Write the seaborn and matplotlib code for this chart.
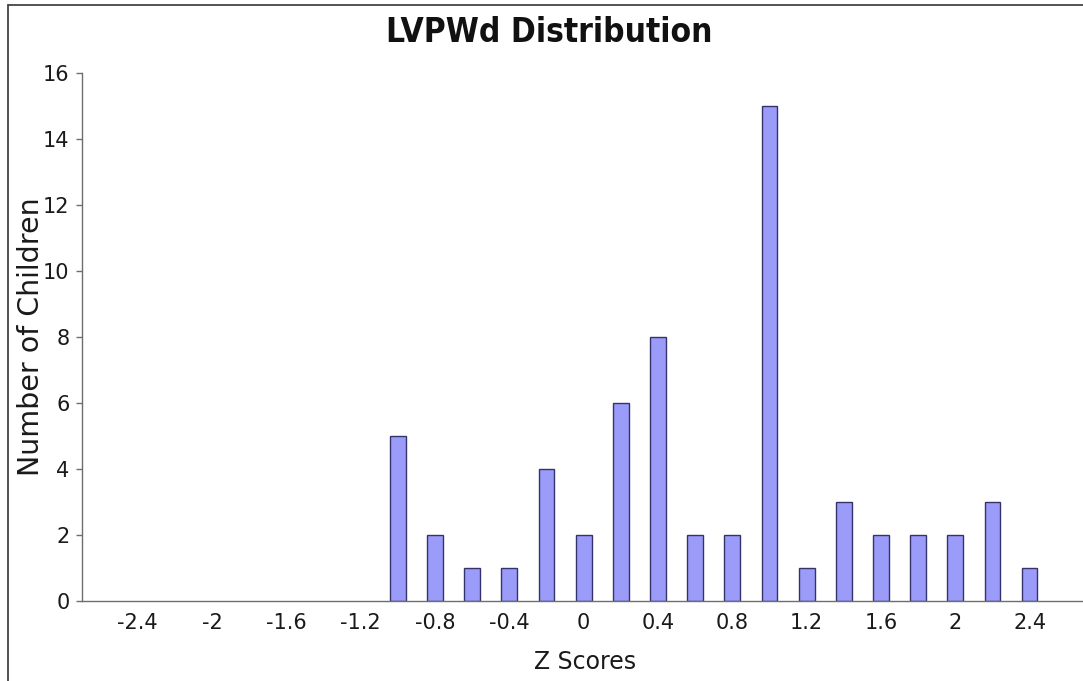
import matplotlib
matplotlib.use("Agg")
import matplotlib.pyplot as plt
from matplotlib.lines import Line2D
import numpy as np
import pandas as pd
import seaborn as sns

# Z-score bins (bin centres) and number of children in each bin
z_scores = [-1.0, -0.8, -0.6, -0.4, -0.2, 0.0, 0.2, 0.4, 0.6,
            0.8, 1.0, 1.2, 1.4, 1.6, 1.8, 2.0, 2.2, 2.4]
counts = [5, 2, 1, 1, 4, 2, 6, 8, 2, 2, 15, 1, 3, 2, 2, 2, 3, 1]

# Axis labelling
x_label_values = [-2.4, -2.0, -1.6, -1.2, -0.8, -0.4, 0.0, 0.4, 0.8, 1.2, 1.6, 2.0, 2.4]
x_label_text = ["-2.4", "-2", "-1.6", "-1.2", "-0.8", "-0.4", "0", "0.4", "0.8",
                "1.2", "1.6", "2", "2.4"]
y_ticks = [0, 2, 4, 6, 8, 10, 12, 14, 16]

title = "LVPWd Distribution"
x_title = "Z Scores"
y_title = "Number of Children"

df = pd.DataFrame({"z": z_scores, "n": counts})

sns.set_style("white")
plt.rcParams["font.family"] = ["DejaVu Sans"]

W, H = 1083, 681
fig = plt.figure(figsize=(W / 100, H / 100), dpi=100)
fig.patch.set_facecolor("white")

# axes placement in pixels
x0_px, y0_px = 82, 600.7
px_per_unit_x = 185.8
px_per_unit_y = 33.0
xmin, xmax = -2.7, 2.7
ymin, ymax = 0, 16
ax = fig.add_axes([x0_px / W, (H - y0_px) / H,
                   (xmax - xmin) * px_per_unit_x / W,
                   (ymax - ymin) * px_per_unit_y / H])

sns.barplot(data=df, x="z", y="n", native_scale=True, width=0.425,
            color="#9b9bfa", saturation=1, edgecolor="#34346a",
            linewidth=1.0, ax=ax, errorbar=None)

ax.set_xlim(xmin, xmax)
ax.set_ylim(ymin, ymax)

axis_grey = "#6e6e6e"
for side in ("top", "right"):
    ax.spines[side].set_visible(False)
for side in ("left", "bottom"):
    ax.spines[side].set_color(axis_grey)
    ax.spines[side].set_linewidth(1.0)

# labels sit at bin centres, tick marks sit on the bin edges
ax.set_xticks(x_label_values, x_label_text)
ax.tick_params(axis="x", which="major", length=0, pad=9, labelsize=15,
               labelcolor="#1a1a1a")
edges = [v + 0.1 for v in x_label_values]
ax.set_xticks(edges, minor=True)
ax.tick_params(axis="x", which="minor", length=6, width=1, color=axis_grey,
               direction="out")

ax.set_yticks(y_ticks, [str(v) for v in y_ticks])
ax.tick_params(axis="y", which="major", length=4, width=1, color=axis_grey,
               labelsize=15, labelcolor="#1a1a1a", pad=5, left=True)

ax.set_xlabel("")
ax.set_ylabel("")
ax.grid(False)

fig.text(549 / W, 1 - 33 / H, title, ha="center", va="center",
         fontsize=24, fontweight="bold", fontstretch="condensed",
         color="#111111")
fig.text(585 / W, 1 - 662 / H, x_title, ha="center", va="center",
         fontsize=17, color="#1a1a1a")
fig.text(31 / W, 1 - 337 / H, y_title, ha="center", va="center",
         rotation=90, fontsize=20.5, color="#1a1a1a")

# outer frame on the left and top edges
fig.add_artist(Line2D([8 / W, 8 / W], [0, 1 - 5 / H], transform=fig.transFigure,
                      color="#444444", lw=1.3))
fig.add_artist(Line2D([8 / W, 1], [1 - 5 / H, 1 - 5 / H], transform=fig.transFigure,
                      color="#444444", lw=1.3))

fig.savefig("out.png", dpi=100)
